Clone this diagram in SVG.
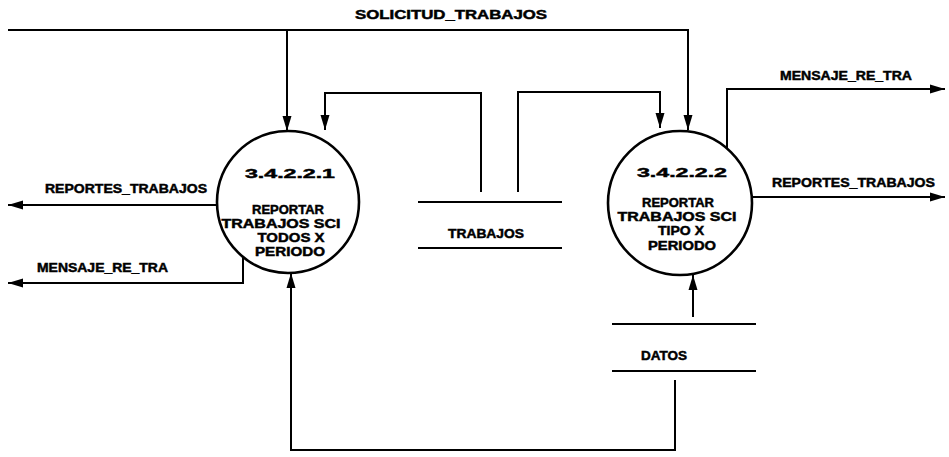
<svg xmlns="http://www.w3.org/2000/svg" width="949" height="457" viewBox="0 0 949 457">
<style>
.bg{fill:#fff}
.ln{fill:none;stroke:#000;stroke-width:2}
.bub{fill:#fff;stroke:#000;stroke-width:2.6}
.st{stroke:#000;stroke-width:2}
text{font-family:"Liberation Sans","DejaVu Sans",sans-serif;font-weight:bold;font-size:12px;fill:#000;stroke:#000;stroke-width:0.45}
.c{text-anchor:middle}
</style>
<defs>
<marker id="ah" markerUnits="userSpaceOnUse" markerWidth="16" markerHeight="10" refX="15" refY="5" orient="auto">
<path d="M0,0.5 L15,5 L0,9.5 Z" fill="#000"/>
</marker>
</defs>
<rect class="bg" x="0" y="0" width="949" height="457"/>
<g id="connectors">
<path class="ln" d="M8,30 H688 V130" marker-end="url(#ah)"/>
<path class="ln" d="M287,30 V131" marker-end="url(#ah)"/>
<path class="ln" d="M481,192 V93 H325 V130" marker-end="url(#ah)"/>
<path class="ln" d="M518,192 V92 H660 V128" marker-end="url(#ah)"/>
<path class="ln" d="M217,205 H8" marker-end="url(#ah)"/>
<path class="ln" d="M243,257 V283 H8" marker-end="url(#ah)"/>
<path class="ln" d="M675,380 V450 H291 V273" marker-end="url(#ah)"/>
<path class="ln" d="M693,317 V275" marker-end="url(#ah)"/>
<path class="ln" d="M727,148 V89 H945" marker-end="url(#ah)"/>
<path class="ln" d="M752,197 H945" marker-end="url(#ah)"/>
<text x="355" y="19" textLength="192" lengthAdjust="spacingAndGlyphs">SOLICITUD_TRABAJOS</text>
<text x="45" y="193" textLength="162" lengthAdjust="spacingAndGlyphs">REPORTES_TRABAJOS</text>
<text x="37" y="272" textLength="131" lengthAdjust="spacingAndGlyphs">MENSAJE_RE_TRA</text>
<text x="780" y="80" textLength="132" lengthAdjust="spacingAndGlyphs">MENSAJE_RE_TRA</text>
<text x="772" y="187" textLength="163" lengthAdjust="spacingAndGlyphs">REPORTES_TRABAJOS</text>
</g>
<g id="p1">
<circle class="bub" cx="288" cy="202" r="71"/>
<text x="290" y="178" class="c" textLength="90" lengthAdjust="spacingAndGlyphs">3.4.2.2.1</text>
<text x="288" y="214" class="c" textLength="72" lengthAdjust="spacingAndGlyphs">REPORTAR</text>
<text x="281" y="228" class="c" textLength="119" lengthAdjust="spacingAndGlyphs">TRABAJOS SCI</text>
<text x="291" y="242" class="c" textLength="67" lengthAdjust="spacingAndGlyphs">TODOS X</text>
<text x="290" y="256" class="c" textLength="70" lengthAdjust="spacingAndGlyphs">PERIODO</text>
</g>
<g id="p2">
<circle class="bub" cx="680" cy="203" r="72"/>
<text x="682" y="177" class="c" textLength="90" lengthAdjust="spacingAndGlyphs">3.4.2.2.2</text>
<text x="678" y="207" class="c" textLength="72" lengthAdjust="spacingAndGlyphs">REPORTAR</text>
<text x="677" y="221" class="c" textLength="119" lengthAdjust="spacingAndGlyphs">TRABAJOS SCI</text>
<text x="681" y="235" class="c" textLength="46" lengthAdjust="spacingAndGlyphs">TIPO X</text>
<text x="682" y="250" class="c" textLength="68" lengthAdjust="spacingAndGlyphs">PERIODO</text>
</g>
<g id="trabajos">
<line class="st" x1="418" y1="202" x2="562" y2="202"/>
<line class="st" x1="418" y1="248" x2="562" y2="248"/>
<text x="486" y="238" class="c" textLength="76" lengthAdjust="spacingAndGlyphs">TRABAJOS</text>
</g>
<g id="datos">
<line class="st" x1="612" y1="324" x2="756" y2="324"/>
<line class="st" x1="612" y1="371" x2="756" y2="371"/>
<text x="664" y="360" class="c" textLength="46" lengthAdjust="spacingAndGlyphs">DATOS</text>
</g>
</svg>
